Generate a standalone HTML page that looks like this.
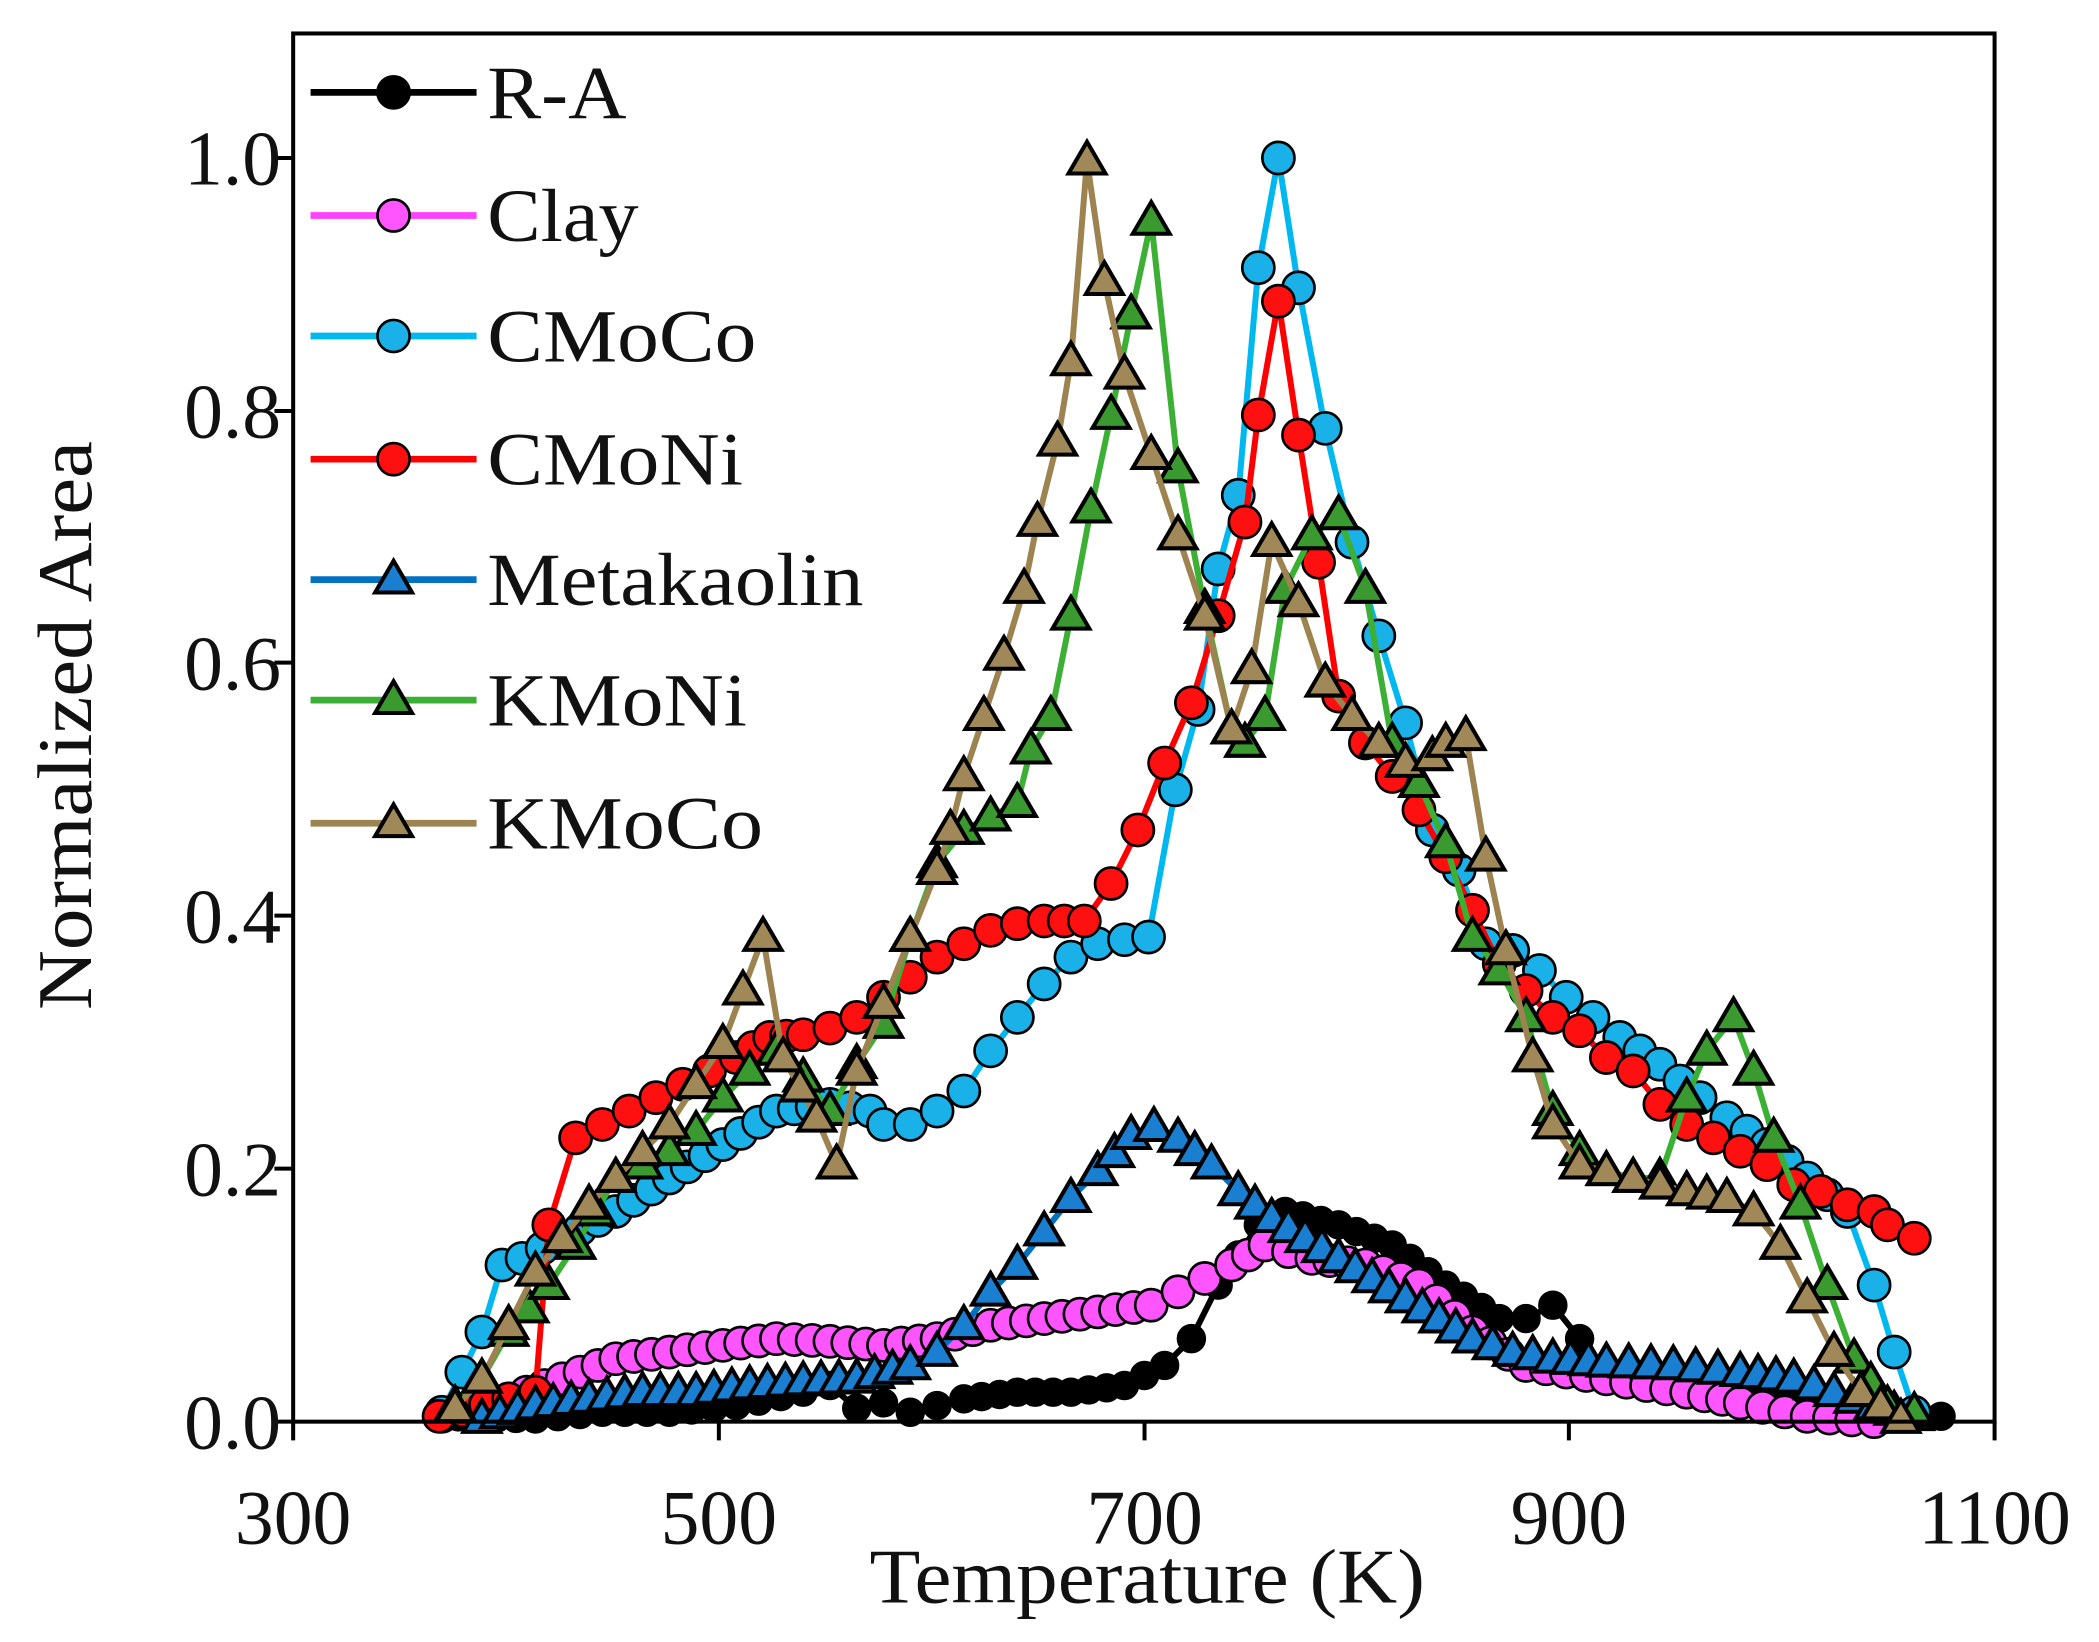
<!DOCTYPE html>
<html><head><meta charset="utf-8"><style>
html,body{margin:0;padding:0;background:#fff;overflow:hidden;}
svg{display:block;}
text{font-family:"Liberation Serif",serif;fill:#111;}
</style></head><body>
<svg id="s" width="2099" height="1642" viewBox="0 0 1568 1226.6" preserveAspectRatio="none" xmlns="http://www.w3.org/2000/svg">
<rect x="0" y="0" width="1568" height="1227" fill="#fff"/>
<g id="plot"></g>
<rect x="219" y="25" width="1271" height="1037" fill="none" stroke="#000" stroke-width="3"/>
<g stroke="#000" stroke-width="3">
<line x1="205" y1="1062" x2="219" y2="1062"/><line x1="205" y1="873" x2="219" y2="873"/><line x1="205" y1="684" x2="219" y2="684"/><line x1="205" y1="495" x2="219" y2="495"/><line x1="205" y1="307" x2="219" y2="307"/><line x1="205" y1="118" x2="219" y2="118"/>
<line x1="219" y1="1062" x2="219" y2="1076"/><line x1="537" y1="1062" x2="537" y2="1076"/><line x1="855" y1="1062" x2="855" y2="1076"/><line x1="1172" y1="1062" x2="1172" y2="1076"/><line x1="1490" y1="1062" x2="1490" y2="1076"/>
</g>
<g font-size="58" text-anchor="end">
<text x="210" y="1082">0.0</text><text x="210" y="893">0.2</text><text x="210" y="704">0.4</text><text x="210" y="515">0.6</text><text x="210" y="327">0.8</text><text x="210" y="138">1.0</text>
</g>
<g font-size="58" text-anchor="middle">
<text x="219" y="1153">300</text><text x="537" y="1153">500</text><text x="855" y="1153">700</text><text x="1172" y="1153">900</text><text x="1490" y="1153">1100</text>
<text x="857" y="1197" textLength="415" lengthAdjust="spacingAndGlyphs">Temperature (K)</text>
<text transform="translate(68,542) rotate(-90)" textLength="425" lengthAdjust="spacingAndGlyphs">Normalized Area</text>
</g>
<g id="legend" font-size="56"></g>
</svg>
<script>
var S=[
["#000","#000","c",[[328,1058],[400,1060],[450,1055],[500,1055],[550,1050],[600,1040],[620,1035],[640,1052],[660,1048],[680,1055],[700,1050],[720,1045],[760,1040],[800,1040],[840,1035],[870,1020],[890,1000],[910,960],[940,915],[960,905],[1000,915],[1040,930],[1080,960],[1120,985],[1140,985],[1160,975],[1180,1000],[1200,1025],[1250,1035],[1300,1040],[1350,1045],[1400,1055],[1450,1058]]],
["#ff40ff","#ff55ff","c",[[330,1058],[380,1045],[420,1030],[460,1015],[500,1010],[540,1005],[580,1000],[620,1002],[660,1005],[700,1000],[740,990],[780,985],[820,980],[860,975],[880,965],[900,955],[920,945],[945,930],[980,940],[1020,945],[1060,960],[1100,995],[1140,1020],[1200,1030],[1260,1040],[1300,1048],[1350,1058],[1400,1062]]],
["#00b8f0","#1ab0e8","c",[[330,1055],[345,1025],[360,995],[375,945],[390,940],[420,925],[460,905],[500,880],[540,855],[580,830],[620,825],[650,830],[660,840],[680,840],[700,830],[720,815],[740,785],[760,760],[780,735],[800,715],[820,705],[840,702],[858,700],[878,590],[895,530],[910,425],[925,370],[940,200],[955,118],[970,215],[990,320],[1010,405],[1030,475],[1050,540],[1070,620],[1090,650],[1110,705],[1130,710],[1150,725],[1170,745],[1190,760],[1210,775],[1240,795],[1270,820],[1290,835],[1320,855],[1350,880],[1380,905],[1400,960],[1415,1010],[1430,1055]]],
["#ff0000","#ff1010","c",[[328,1058],[380,1045],[400,1040],[410,915],[430,850],[450,840],[470,830],[490,820],[510,810],[530,800],[550,790],[575,775],[600,773],[620,768],[640,760],[660,745],[680,730],[700,715],[720,705],[740,695],[760,690],[780,688],[810,688],[830,660],[850,620],[870,570],[890,525],[910,460],[930,390],[940,310],[955,225],[970,325],[985,420],[1000,520],[1020,555],[1040,580],[1060,605],[1080,640],[1100,680],[1120,720],[1140,740],[1160,760],[1180,770],[1200,790],[1220,800],[1240,825],[1260,840],[1280,850],[1300,860],[1320,870],[1340,885],[1360,890],[1380,900],[1400,905],[1410,915],[1430,925]]],
["#0070c0","#1a7fd0","t",[[360,1060],[400,1050],[440,1045],[480,1040],[520,1040],[560,1035],[600,1032],[640,1030],[680,1020],[700,1010],[720,990],[740,965],[760,945],[780,920],[800,895],[820,875],[845,848],[862,842],[880,850],[905,870],[925,890],[950,910],[975,925],[1000,940],[1025,955],[1050,970],[1075,985],[1100,1000],[1130,1010],[1160,1015],[1200,1018],[1250,1020],[1300,1025],[1340,1030],[1370,1040],[1400,1050],[1430,1058]]],
["#3cb034","#3a9a30","t",[[340,1050],[360,1030],[380,995],[410,960],[430,930],[460,880],[480,870],[500,860],[520,845],[540,820],[560,800],[580,785],[600,805],[620,830],[640,795],[660,765],[680,700],[700,645],[720,620],[740,610],[760,600],[770,560],[785,535],[800,460],[815,380],[830,310],[845,235],[860,165],[880,350],[900,455],[920,545],[930,555],[945,535],[960,440],[980,400],[1000,385],[1020,440],[1040,555],[1060,585],[1080,630],[1100,700],[1120,725],[1140,760],[1160,830],[1180,860],[1200,875],[1220,880],[1240,880],[1260,820],[1275,785],[1295,760],[1310,800],[1325,850],[1345,900],[1365,960],[1385,1015],[1410,1050],[1430,1055]]],
["#9c8350","#a08858","t",[[340,1052],[360,1030],[380,990],[400,950],[420,925],[440,900],[460,880],[480,860],[500,840],[520,810],[540,780],[555,740],[570,700],[585,790],[610,835],[625,870],[640,800],[660,750],[680,700],[700,650],[710,620],[720,580],[735,535],[750,490],[765,440],[775,390],[790,330],[800,270],[812,120],[825,210],[840,280],[860,340],[880,400],[900,460],[920,545],[935,500],[950,405],[970,450],[990,510],[1010,535],[1030,555],[1050,570],[1070,565],[1080,555],[1095,550],[1110,640],[1125,710],[1145,790],[1160,840],[1180,870],[1200,875],[1220,880],[1240,885],[1260,890],[1290,895],[1310,905],[1330,930],[1350,970],[1370,1010],[1390,1040],[1420,1060]]]
];
var names=["R-A","Clay","CMoCo","CMoNi","Metakaolin","KMoNi","KMoCo"];
var lens=[104,113,201,191,281,194,206];
var ly=[69,161,251,343,433,523,615];
function f(v){return (+v).toFixed(1);}
function mk(type,x,y,fill,r){
 x=+x;y=+y;
 if(type=="c") return '<circle cx="'+f(x)+'" cy="'+f(y)+'" r="'+r+'" fill="'+fill+'" stroke="#000" stroke-width="2"/>';
 var h=r*1.9,w=r*1.15;
 return '<polygon points="'+f(x)+','+f(y-h*0.62)+' '+f(x-w)+','+f(y+h*0.42)+' '+f(x+w)+','+f(y+h*0.42)+'" fill="'+fill+'" stroke="#000" stroke-width="3" stroke-linejoin="miter"/>';
}
var out='',leg='';
S.forEach(function(s,i){
 var pts=s[3];
 out+='<polyline fill="none" stroke="'+s[0]+'" stroke-width="4.5" stroke-linejoin="round" points="'+pts.map(function(p){return p.join(',')}).join(' ')+'"/>';
 var m='';
 for(var k=0;k<pts.length-1;k++){
  var a=pts[k],b=pts[k+1];var n=Math.max(1,Math.round((b[0]-a[0])/15));
  for(var j=0;j<n;j++){var t=j/n;m+=mk(s[2],a[0]+(b[0]-a[0])*t,a[1]+(b[1]-a[1])*t,s[1],i==0?10:12);}
 }
 var l=pts[pts.length-1];m+=mk(s[2],l[0],l[1],s[1],i==0?10:12);
 out+=m;
 leg+='<line x1="232" y1="'+ly[i]+'" x2="356" y2="'+ly[i]+'" stroke="'+s[0]+'" stroke-width="5"/>'+mk(s[2],294,ly[i],s[1],12)+'<text x="364" y="'+(ly[i]+19)+'" textLength="'+lens[i]+'" lengthAdjust="spacingAndGlyphs">'+names[i]+'</text>';
});
document.getElementById('plot').innerHTML=out;
document.getElementById('legend').innerHTML=leg;
</script>
</body></html>
